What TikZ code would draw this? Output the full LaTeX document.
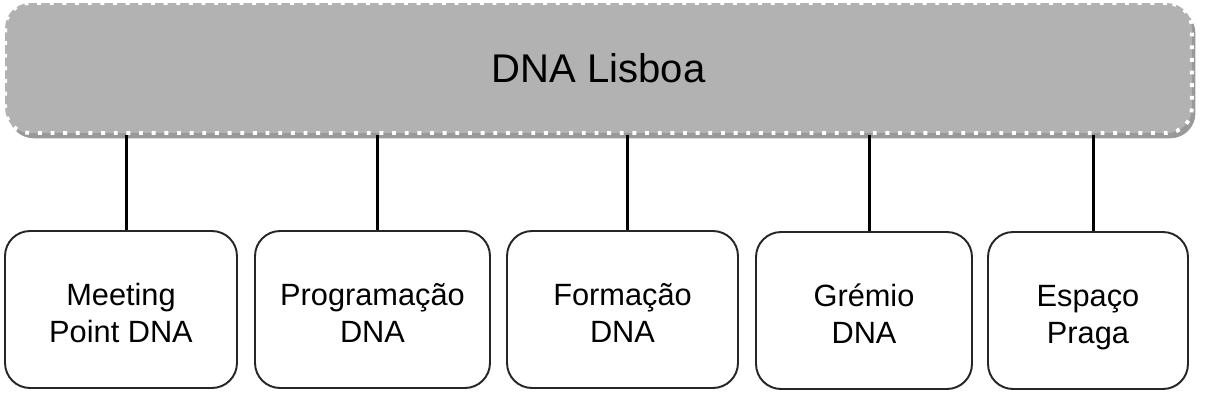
\documentclass[tikz,border=0pt]{standalone}
\usepackage{fontspec}
\setmainfont{Liberation Sans}
\usetikzlibrary{shadows, positioning}

\begin{document}
\begin{tikzpicture}[
    x=0.02cm, y=-0.02cm,
    root/.style={rectangle, draw=white, fill=black!30, line width=2.2pt, dash pattern=on 2.2pt off 5pt, rounded corners=0.5cm, minimum width=23.74cm, minimum height=2.6cm, font=\fontsize{22.8}{27}\selectfont, drop shadow={shadow xshift=2pt, shadow yshift=-3pt, opacity=0.4, fill=black}},
    unit/.style={rectangle, draw=black!85, fill=white, line width=1.1pt, rounded corners=0.5cm, minimum height=3.14cm, align=center, font=\fontsize{17.5}{21}\selectfont,
        text height=37pt, text depth=0pt},
    link/.style={line width=1.6pt, draw=black}
]
    \useasboundingbox (0,0) rectangle (1207,403);

    \node[root] (lisboa) at (598.5,68) {DNA Lisboa};

    \node[unit, minimum width=4.64cm] (meeting) at (121,309.5) {Meeting\\Point DNA};
    \node[unit, minimum width=4.70cm] (programacao) at (372.5,309.5) {Programação\\DNA};
    \node[unit, minimum width=4.62cm] (formacao) at (622.5,309.5) {Formação\\DNA};
    \node[unit, minimum width=4.32cm] (gremio) at (864,310.5) {Grémio\\DNA};
    \node[unit, minimum width=4.00cm] (espaco) at (1088,310.5) {Espaço\\Praga};

    \foreach \u in {meeting, programacao, formacao, gremio, espaco}
        \draw[link] ([xshift=3pt]\u.north |- lisboa.south) -- ([xshift=3pt]\u.north);
\end{tikzpicture}
\end{document}
